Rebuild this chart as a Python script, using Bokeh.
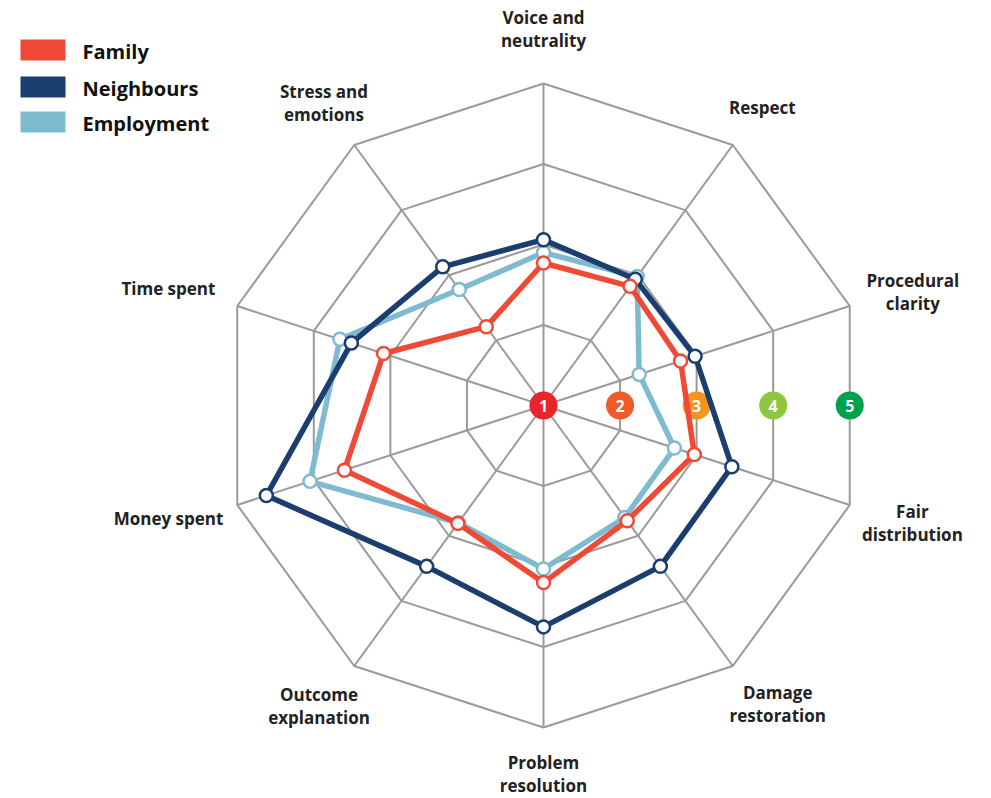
import math
from bokeh.plotting import figure
from bokeh.models import Range1d
from bokeh.core.properties import value
from bokeh.embed import file_html
from bokeh.resources import INLINE

# ---------------- data ----------------
categories = ["Voice and\nneutrality", "Respect", "Procedural\nclarity", "Fair\ndistribution",
              "Damage\nrestoration", "Problem\nresolution", "Outcome\nexplanation",
              "Money spent", "Time spent", "Stress and\nemotions"]
family = [2.77, 2.83, 2.79, 2.97, 2.77, 3.20, 2.81, 3.60, 3.09, 2.21]
neighbours = [3.06, 2.94, 2.98, 3.46, 3.47, 3.75, 3.47, 4.62, 3.51, 3.13]
employment = [2.90, 2.98, 2.25, 2.71, 2.72, 3.03, 2.80, 4.05, 3.66, 2.78]
levels = [1, 2, 3, 4, 5]
level_labels = ["1", "2", "3", "4", "5"]

# ---------------- style ----------------
FONT = "Open Sans"
grid_color = "#9a9a9a"
series = [("Employment", employment, "#7fbbd0"),
          ("Neighbours", neighbours, "#1b3e70"),
          ("Family", family, "#f04a37")]
legend_order = ["Family", "Neighbours", "Employment"]
series_color = {nm: c for nm, _, c in series}
level_colors = ["#e8262a", "#f15a29", "#f7941d", "#8dc63f", "#00a14b"]
# label placement (radius in scale units, angle in degrees)
label_radius = [4.68, 4.59, 4.80, 4.81, 4.71, 4.58, 4.655, 4.866, 4.88, 4.64]
label_angle = [90, 53.7, 17.1, -17.7, -51.85, -90, -126.8, -163.2, 162.7, 126]

n = len(categories)
angles = [math.radians(90 - 360.0 * k / n) for k in range(n)]
vmin = levels[0]


def polar(vals):
    xs = [(v - vmin) * math.cos(a) for v, a in zip(vals, angles)]
    ys = [(v - vmin) * math.sin(a) for v, a in zip(vals, angles)]
    return xs, ys


W, H = 991, 798
scale = 80.5  # px per unit
cx, cy = 543, 405


def px(x):
    return (x - cx) / scale


def py(y):
    return (cy - y) / scale


p = figure(width=W, height=H, output_backend="svg", toolbar_location=None,
           x_range=Range1d(px(0), px(W)), y_range=Range1d(py(H), py(0)),
           x_axis_location=None, y_axis_location=None, min_border=0)
p.grid.visible = False
p.outline_line_color = None
p.background_fill_color = "white"

# grid rings
for lv in levels[1:]:
    xs, ys = polar([lv] * n)
    p.line(xs + xs[:1], ys + ys[:1], line_color=grid_color, line_width=2)
# spokes
for a in angles:
    r = levels[-1] - vmin
    p.line([0, r * math.cos(a)], [0, r * math.sin(a)], line_color=grid_color, line_width=2)

# level markers along the horizontal (edge midpoints)
apo = math.cos(math.pi / n)
lx = [(lv - vmin) * apo for lv in levels]
ly = [0] * len(levels)
p.scatter(lx, ly, size=28, fill_color=level_colors, line_color=None)
p.text(lx, ly, text=level_labels, text_color="white", text_font=value(FONT),
       text_font_style="bold", text_font_size="16px", text_align="center",
       text_baseline="middle")

# series
for name, vals, col in series:
    xs, ys = polar(vals)
    p.line(xs + xs[:1], ys + ys[:1], line_color=col, line_width=5.5, line_join="round")
    p.scatter(xs, ys, size=13, fill_color="white", line_color=col, line_width=2.5)

# category labels
tx = [r * math.cos(math.radians(a)) for r, a in zip(label_radius, label_angle)]
ty = [r * math.sin(math.radians(a)) for r, a in zip(label_radius, label_angle)]
p.text(tx, ty, text=categories, text_color="#222222", text_font=value(FONT),
       text_font_style="bold", text_font_size="17px", text_align="center",
       text_baseline="middle", text_line_height=1.0)

# legend (drawn manually)
leg_left, leg_right, leg_h = 20, 65, 21
leg_tops = [39, 76, 111]
p.quad(left=[px(leg_left)] * 3, right=[px(leg_right)] * 3,
       top=[py(t) for t in leg_tops], bottom=[py(t + leg_h) for t in leg_tops],
       fill_color=[series_color[nm] for nm in legend_order], line_color=None)
p.text([px(82)] * 3, [py(t + leg_h / 2 + 1) for t in leg_tops], text=legend_order,
       text_color="#111111", text_font=value(FONT), text_font_style="bold",
       text_font_size="20px", text_align="left", text_baseline="middle")

open("out.html", "w").write(file_html(p, INLINE))
